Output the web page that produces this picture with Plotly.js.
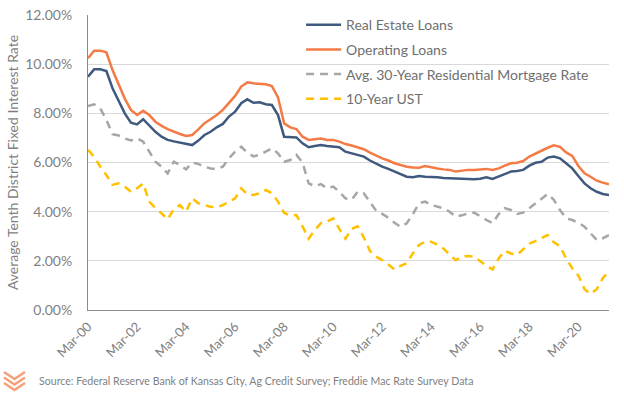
<!DOCTYPE html>
<html>
<head>
<meta charset="utf-8">
<script src="https://cdn.plot.ly/plotly-3.0.1.min.js"></script>
<style>html,body{margin:0;padding:0;background:#fff;}#chart{width:624px;height:398px;}</style>
</head>
<body>
<div id="chart"></div>
<script>
// Quarter categories Mar-00 .. Jun-21
const quarterMonths = ["Mar", "Jun", "Sep", "Dec"];
const years = ["00","01","02","03","04","05","06","07","08","09","10","11","12","13","14","15","16","17","18","19","20","21"];
const categories = [];
years.forEach(y => quarterMonths.forEach(m => categories.push(m + "-" + y)));
categories.length = 86;

const tickLabels = ["Mar-00","Mar-02","Mar-04","Mar-06","Mar-08","Mar-10","Mar-12","Mar-14","Mar-16","Mar-18","Mar-20"];

const realEstateLoans = [
  9.49, 9.79, 9.79, 9.72, 9.02, 8.48, 8.00, 7.62, 7.55, 7.76,
  7.49, 7.25, 7.05, 6.92, 6.86, 6.82, 6.75, 6.71, 6.89, 7.12,
  7.25, 7.43, 7.57, 7.87, 8.07, 8.41, 8.57, 8.43, 8.45, 8.37,
  8.34, 7.93, 7.05, 7.02, 7.02, 6.78, 6.62, 6.67, 6.71, 6.67,
  6.64, 6.62, 6.44, 6.37, 6.33, 6.24, 6.08, 5.94, 5.83, 5.74,
  5.63, 5.53, 5.42, 5.40, 5.45, 5.42, 5.42, 5.40, 5.37, 5.36,
  5.33, 5.32, 5.34, 5.32, 5.34, 5.40, 5.33, 5.42, 5.52, 5.63,
  5.65, 5.70, 5.87, 5.99, 6.03, 6.20, 6.24, 6.17, 5.97, 5.76,
  5.45, 5.15, 4.95, 4.81, 4.72, 4.68
];
const operatingLoans = [
  10.24, 10.55, 10.55, 10.48, 9.76, 9.20, 8.60, 8.14, 7.93, 8.10,
  7.93, 7.66, 7.49, 7.36, 7.25, 7.16, 7.08, 7.12, 7.35, 7.60,
  7.76, 7.93, 8.14, 8.41, 8.71, 9.09, 9.26, 9.22, 9.19, 9.18,
  9.11, 8.65, 7.59, 7.43, 7.36, 7.05, 6.92, 6.94, 6.98, 6.92,
  6.92, 6.85, 6.75, 6.69, 6.62, 6.54, 6.40, 6.28, 6.17, 6.08,
  5.97, 5.90, 5.83, 5.80, 5.79, 5.86, 5.80, 5.76, 5.72, 5.70,
  5.63, 5.67, 5.70, 5.70, 5.72, 5.74, 5.70, 5.76, 5.87, 5.97,
  5.99, 6.06, 6.24, 6.37, 6.48, 6.60, 6.70, 6.64, 6.41, 6.27,
  5.86, 5.56, 5.42, 5.26, 5.18, 5.11
];
const mortgageRate = [
  8.30, 8.37, 8.20, 7.73, 7.15, 7.10, 6.98, 6.90, 6.98, 6.85,
  6.44, 6.03, 5.83, 5.56, 6.03, 5.90, 5.72, 6.00, 5.94, 5.83,
  5.76, 5.74, 5.83, 6.17, 6.44, 6.64, 6.40, 6.25, 6.31, 6.44,
  6.58, 6.37, 6.03, 6.10, 6.31, 6.00, 5.15, 5.04, 5.12, 4.95,
  5.02, 4.81, 4.54, 4.48, 4.81, 4.75, 4.37, 4.04, 3.91, 3.75,
  3.55, 3.38, 3.53, 3.90, 4.34, 4.41, 4.27, 4.20, 4.14, 4.00,
  3.80, 3.85, 3.93, 3.96, 3.80, 3.66, 3.53, 3.90, 4.14, 4.07,
  3.91, 3.96, 4.14, 4.34, 4.54, 4.72, 4.48, 4.07, 3.73, 3.66,
  3.55, 3.39, 3.12, 2.85, 2.92, 3.05
];
const ust10 = [
  6.51, 6.24, 5.83, 5.49, 5.09, 5.15, 5.02, 4.81, 4.95, 5.15,
  4.41, 4.14, 3.93, 3.69, 4.10, 4.27, 4.00, 4.54, 4.34, 4.27,
  4.20, 4.18, 4.27, 4.41, 4.54, 4.95, 4.70, 4.68, 4.75, 4.88,
  4.75, 4.41, 3.95, 3.85, 3.86, 3.40, 2.90, 3.25, 3.53, 3.60,
  3.73, 3.30, 2.90, 3.30, 3.40, 2.95, 2.40, 2.17, 2.03, 1.85,
  1.65, 1.80, 1.90, 2.30, 2.65, 2.78, 2.78, 2.65, 2.50, 2.25,
  2.03, 2.17, 2.20, 2.17, 1.97, 1.80, 1.65, 2.10, 2.41, 2.30,
  2.24, 2.45, 2.70, 2.80, 2.92, 3.05, 2.75, 2.60, 2.10, 1.70,
  1.40, 0.85, 0.65, 0.85, 1.30, 1.56
];

const yTickVals = [0, 2, 4, 6, 8, 10, 12];
const yTickText = ["0.00%", "2.00%", "4.00%", "6.00%", "8.00%", "10.00%", "12.00%"];

const FONT = "Lato, 'Open Sans', sans-serif";
const GREY = "#7f7f7f";

const traces = [
  {x: categories, y: realEstateLoans, name: "Real Estate Loans", legendgroup: "a",
   line: {color: "#3f5a7e", width: 2.5}},
  {x: categories, y: operatingLoans, name: "Operating Loans", legendgroup: "b",
   line: {color: "#f47a46", width: 2.5}},
  {x: categories, y: mortgageRate, name: "Avg. 30-Year Residential Mortgage Rate", legendgroup: "c",
   line: {color: "#a6a6a6", width: 2.5, dash: "8px,6px"}},
  {x: categories, y: ust10, name: "10-Year UST", legendgroup: "d",
   line: {color: "#ffc000", width: 2.5, dash: "8px,6px"}}
].map(t => Object.assign({type: "scatter", mode: "lines", hoverinfo: "skip"}, t));

// logo chevrons (paper coords from pixel positions)
function px2paperX(p) { return (p - 88) / 521; }
function px2paperY(p) { return (310 - p) / 295; }
const shapes = [];
[0, 5.5, 11].forEach(off => {
  const path = "M " + px2paperX(4) + "," + px2paperY(372 + off) +
               " L " + px2paperX(14.5) + "," + px2paperY(379 + off) +
               " L " + px2paperX(25) + "," + px2paperY(372 + off);
  shapes.push({type: "path", xref: "paper", yref: "paper", path: path,
               line: {color: "#f4a07a", width: 2.5}});
});

const layout = {
  width: 624, height: 398,
  margin: {l: 88, r: 15, t: 15, b: 88, pad: 0, autoexpand: false},
  paper_bgcolor: "#ffffff", plot_bgcolor: "#ffffff",
  font: {family: FONT, size: 13, color: GREY},
  showlegend: true,
  legend: {x: 0.409, xanchor: "left", y: 1.02, yanchor: "top",
           bgcolor: "rgba(0,0,0,0)", font: {family: FONT, size: 14, color: "#6f6f6f"},
           tracegroupgap: 3.5, itemwidth: 35},
  xaxis: {type: "category", range: [0, 85], tickmode: "array",
          tickvals: tickLabels, ticktext: tickLabels, tickangle: -45,
          showgrid: false, showline: true, linecolor: "#8c8c8c", linewidth: 1,
          ticks: "outside", ticklen: 3, tickcolor: "rgba(0,0,0,0)",
          tickfont: {family: FONT, size: 13, color: GREY}, zeroline: false, fixedrange: true},
  yaxis: {range: [0, 12], tickmode: "array", tickvals: yTickVals, ticktext: yTickText,
          showgrid: true, gridcolor: "#d9d9d9", gridwidth: 1,
          showline: true, linecolor: "#8c8c8c", linewidth: 1, zeroline: false,
          ticks: "outside", ticklen: 12, tickcolor: "rgba(0,0,0,0)",
          tickfont: {family: FONT, size: 14, color: GREY},
          title: {text: "Average Tenth District Fixed Interest Rate", font: {family: FONT, size: 14, color: GREY}, standoff: 3},
          fixedrange: true},
  shapes: shapes,
  annotations: [{
    text: "Source: Federal Reserve Bank of Kansas City, Ag Credit Survey; Freddie Mac Rate Survey Data",
    xref: "paper", yref: "paper", x: px2paperX(37), y: px2paperY(381),
    xanchor: "left", yanchor: "middle", showarrow: false,
    font: {family: FONT, size: 10.6, color: GREY}
  }]
};

Plotly.newPlot("chart", traces, layout, {displayModeBar: false, staticPlot: true});
</script>
</body>
</html>
